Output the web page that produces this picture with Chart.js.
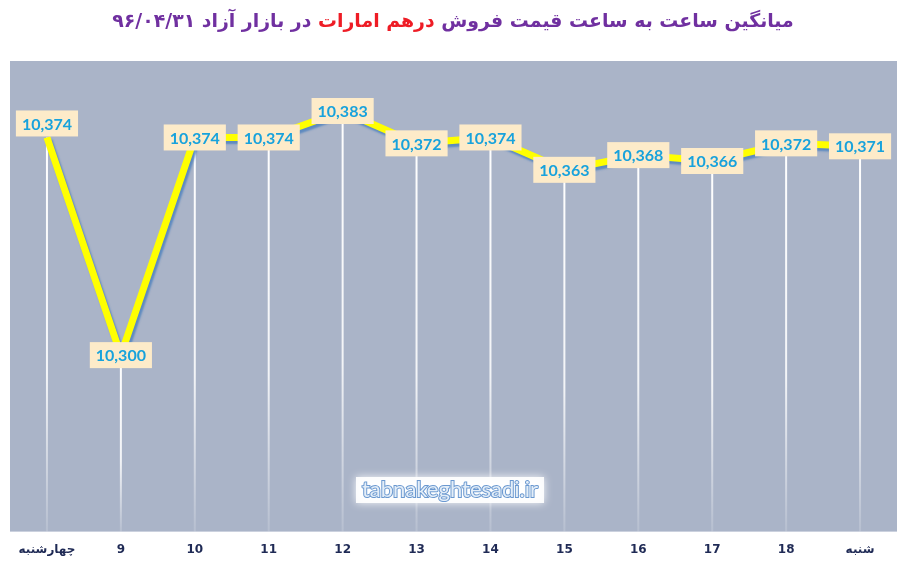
<!DOCTYPE html>
<html>
<head>
<meta charset="utf-8">
<script src="https://cdn.jsdelivr.net/npm/chart.js@4.4.0/dist/chart.umd.min.js"></script>
<style>
  body { margin: 0; background: #ffffff; }
  #box { width: 905px; height: 568px; }
</style>
</head>
<body>
<div id="box"><canvas id="line-chart"></canvas></div>
<script>
const hours = ["چهارشنبه", "9", "10", "11", "12", "13", "14", "15", "16", "17", "18", "شنبه"];
const prices = [10374, 10300, 10374, 10374, 10383, 10372, 10374, 10363, 10368, 10366, 10372, 10371];
const titleParts = ["میانگین ساعت به ساعت قیمت فروش ", "درهم امارات", " در بازار آزاد ۹۶/۰۴/۳۱"];
const titleColors = ["#7030a0", "#ee1c25", "#7030a0"];
const watermark = "tabnakeghtesadi.ir";

// fondo del area, lineas verticales, etiquetas, titulo y marca de agua
const decoPlugin = {
  id: "deco",
  beforeDraw(chart) {
    const { ctx, chartArea: a } = chart;
    ctx.save();
    ctx.fillStyle = "#aab4c8";
    ctx.fillRect(a.left, a.top, a.right - a.left, a.bottom - a.top);
    ctx.restore();
  },
  beforeDatasetsDraw(chart) {
    const { ctx, chartArea: a } = chart;
    const pts = chart.getDatasetMeta(0).data;
    ctx.save();
    pts.forEach((p) => {
      const g = ctx.createLinearGradient(0, p.y, 0, a.bottom);
      g.addColorStop(0, "rgba(255,255,255,1)");
      g.addColorStop(0.6, "rgba(255,255,255,0.85)");
      g.addColorStop(1, "rgba(255,255,255,0.15)");
      ctx.strokeStyle = g;
      ctx.lineWidth = 2;
      ctx.beginPath();
      ctx.moveTo(p.x, p.y);
      ctx.lineTo(p.x, a.bottom);
      ctx.stroke();
    });
    ctx.restore();
  },
  beforeDatasetDraw(chart) {
    const ctx = chart.ctx;
    ctx.save();
    ctx.shadowColor = "rgba(80,130,190,0.85)";
    ctx.shadowOffsetX = 2;
    ctx.shadowOffsetY = 3;
    ctx.shadowBlur = 2;
  },
  afterDatasetDraw(chart) {
    chart.ctx.restore();
  },
  afterDatasetsDraw(chart) {
    const { ctx } = chart;
    const pts = chart.getDatasetMeta(0).data;
    ctx.save();
    ctx.font = "bold 16px Lato";
    ctx.textAlign = "center";
    ctx.textBaseline = "middle";
    pts.forEach((p, i) => {
      const txt = prices[i].toLocaleString("en-US");
      const w = ctx.measureText(txt).width + 12;
      const h = 26;
      const y = i === 0 ? p.y - 14 : p.y;
      ctx.fillStyle = "#fdebc9";
      ctx.fillRect(p.x - w / 2, y - h / 2, w, h);
      ctx.fillStyle = "#18a2dc";
      ctx.fillText(txt, p.x, y + 1);
    });

    // marca de agua
    const cx = 450, cy = 490;
    ctx.font = "22px Lato";
    const ww = ctx.measureText(watermark).width;
    ctx.shadowColor = "rgba(255,255,255,1)";
    ctx.shadowBlur = 8;
    ctx.fillStyle = "rgba(255,255,255,0.9)";
    ctx.fillRect(cx - ww / 2 - 6, cy - 13, ww + 12, 26);
    ctx.shadowBlur = 0;
    ctx.lineWidth = 2;
    ctx.strokeStyle = "#6a98d0";
    ctx.strokeText(watermark, cx, cy);
    ctx.fillStyle = "#e4eef8";
    ctx.fillText(watermark, cx, cy);
    ctx.restore();
  },
  afterDraw(chart) {
    const ctx = chart.ctx;
    ctx.save();
    let size = 20;
    ctx.font = "bold " + size + "px 'DejaVu Sans'";
    let total = titleParts.reduce((s, t) => s + ctx.measureText(t).width, 0);
    size = Math.min(24, size * 683 / total);
    ctx.font = "bold " + size.toFixed(1) + "px 'DejaVu Sans'";
    total = titleParts.reduce((s, t) => s + ctx.measureText(t).width, 0);
    ctx.direction = "rtl";
    ctx.textAlign = "right";
    ctx.textBaseline = "middle";
    let x = 453 + total / 2;
    titleParts.forEach((t, i) => {
      ctx.fillStyle = titleColors[i];
      ctx.fillText(t, x, 22);
      x -= ctx.measureText(t).width;
    });
    ctx.restore();
  },
};

const contenedor = document.querySelector("#line-chart").getContext("2d");

const lineChart = new Chart(contenedor, {
  type: "line",
  data: {
    labels: hours,
    datasets: [
      {
        label: "درهم امارات",
        data: prices,
        borderColor: "#ffff00",
        borderWidth: 7,
        borderJoinStyle: "round",
        pointRadius: 0,
        pointHoverRadius: 0,
        tension: 0,
        fill: false,
      },
    ],
  },
  options: {
    responsive: true,
    maintainAspectRatio: false,
    animation: false,
    layout: { padding: { left: 10, right: 8, top: 61, bottom: 0 } },
    plugins: {
      legend: { display: false },
      title: { display: false },
      tooltip: { enabled: false },
    },
    scales: {
      x: {
        offset: true,
        grid: { display: false, drawTicks: false },
        border: { display: false },
        ticks: {
          color: "#1f2a55",
          padding: 11,
          font: { family: "'DejaVu Sans'", size: 12, weight: "bold" },
          maxRotation: 0,
          autoSkip: false,
        },
      },
      y: {
        display: false,
        min: 10240,
        max: 10400,
      },
    },
  },
  plugins: [decoPlugin],
});
</script>
</body>
</html>
